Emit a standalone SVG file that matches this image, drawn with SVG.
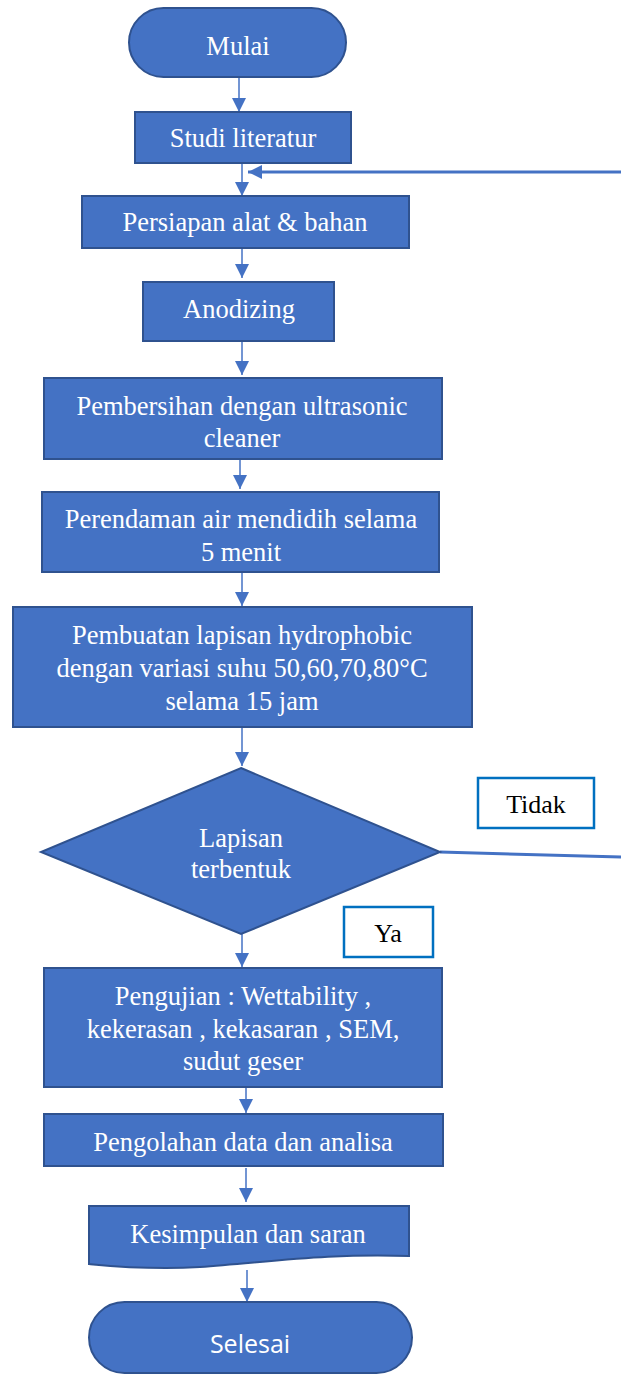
<svg xmlns="http://www.w3.org/2000/svg" width="621" height="1374" viewBox="0 0 621 1374">
<defs>
<style>
.n{fill:#4472C4;stroke:#2F528F;stroke-width:2}
.t{font-family:"Liberation Serif","Times New Roman",serif;font-size:26.5px;fill:#FFFFFF;text-anchor:middle}
.lb{fill:#FFFFFF;stroke:#0070C0;stroke-width:2.5}
.lt{font-family:"Liberation Serif","Times New Roman",serif;font-size:26px;fill:#000000;text-anchor:middle}
.c{fill:none;stroke:#4472C4;stroke-width:1.5}
.fb{fill:none;stroke:#4472C4;stroke-width:3}
</style>
<marker id="ah" markerUnits="userSpaceOnUse" markerWidth="16" markerHeight="16" viewBox="0 0 16 16" refX="15" refY="8" orient="auto">
<path d="M1,1 L15,8 L1,15 Z" fill="#4472C4"/>
</marker>
</defs>
<rect width="621" height="1374" fill="#FFFFFF"/>
<g id="connectors">
<line class="c" x1="239" y1="77" x2="239" y2="112" marker-end="url(#ah)"/>
<line class="c" x1="242" y1="163" x2="242" y2="196" marker-end="url(#ah)"/>
<line class="fb" x1="621" y1="172" x2="248" y2="172" marker-end="url(#ah)"/>
<line class="c" x1="242" y1="248" x2="242" y2="278" marker-end="url(#ah)"/>
<line class="c" x1="242" y1="341" x2="242" y2="375" marker-end="url(#ah)"/>
<line class="c" x1="240" y1="459" x2="240" y2="489" marker-end="url(#ah)"/>
<line class="c" x1="242" y1="572" x2="242" y2="606" marker-end="url(#ah)"/>
<line class="c" x1="242" y1="727" x2="242" y2="766" marker-end="url(#ah)"/>
<line class="c" x1="242" y1="934" x2="242" y2="967" marker-end="url(#ah)"/>
<line class="c" x1="246" y1="1087" x2="246" y2="1113" marker-end="url(#ah)"/>
<line class="c" x1="246" y1="1168" x2="246" y2="1202" marker-end="url(#ah)"/>
<line class="c" x1="247" y1="1270" x2="247" y2="1302" marker-end="url(#ah)"/>
<line class="fb" x1="440" y1="852" x2="621" y2="857" stroke-width="2.5"/>
</g>
<g id="mulai">
<rect class="n" x="129" y="8" width="217" height="69" rx="34.5"/>
<text class="t" x="238" y="55">Mulai</text>
</g>
<g id="studi">
<rect class="n" x="135" y="112" width="216" height="51"/>
<text class="t" x="243" y="147">Studi literatur</text>
</g>
<g id="persiapan">
<rect class="n" x="82" y="196" width="327" height="52"/>
<text class="t" x="245" y="231">Persiapan alat &amp; bahan</text>
</g>
<g id="anodizing">
<rect class="n" x="143" y="282" width="191" height="59"/>
<text class="t" x="239" y="318">Anodizing</text>
</g>
<g id="pembersihan">
<rect class="n" x="44" y="378" width="398" height="81"/>
<text class="t" x="242" y="415">Pembersihan dengan ultrasonic</text>
<text class="t" x="242" y="447">cleaner</text>
</g>
<g id="perendaman">
<rect class="n" x="42" y="492" width="397" height="80"/>
<text class="t" x="241" y="528">Perendaman air mendidih selama</text>
<text class="t" x="241" y="561">5 menit</text>
</g>
<g id="pembuatan">
<rect class="n" x="13" y="607" width="459" height="120"/>
<text class="t" x="242" y="644">Pembuatan lapisan hydrophobic</text>
<text class="t" x="242" y="677">dengan variasi suhu 50,60,70,80°C</text>
<text class="t" x="242" y="710">selama 15 jam</text>
</g>
<g id="keputusan">
<polygon class="n" points="241,768 440,852 241,934 41,852"/>
<text class="t" x="241" y="847">Lapisan</text>
<text class="t" x="241" y="878">terbentuk</text>
</g>
<g id="label-tidak">
<rect class="lb" x="478" y="778" width="116" height="50"/>
<text class="lt" x="536" y="813">Tidak</text>
</g>
<g id="label-ya">
<rect class="lb" x="344" y="907" width="89" height="50"/>
<text class="lt" x="388" y="942">Ya</text>
</g>
<g id="pengujian">
<rect class="n" x="44" y="968" width="398" height="119"/>
<text class="t" x="243" y="1005">Pengujian : Wettability ,</text>
<text class="t" x="243" y="1038">kekerasan , kekasaran , SEM,</text>
<text class="t" x="243" y="1070">sudut geser</text>
</g>
<g id="pengolahan">
<rect class="n" x="44" y="1114" width="399" height="52"/>
<text class="t" x="243" y="1151">Pengolahan data dan analisa</text>
</g>
<g id="kesimpulan">
<path class="n" d="M89,1206 H409 V1256 C330,1253 270,1262 200,1267 C150,1270 110,1266 89,1264 Z"/>
<text class="t" x="248" y="1243">Kesimpulan dan saran</text>
</g>
<g id="selesai">
<rect class="n" x="89" y="1302" width="323" height="71" rx="35.5"/>
<text x="250" y="1353" text-anchor="middle" font-family="'Open Sans','Noto Sans',sans-serif" font-size="25" fill="#FFFFFF">Selesai</text>
</g>
</svg>
